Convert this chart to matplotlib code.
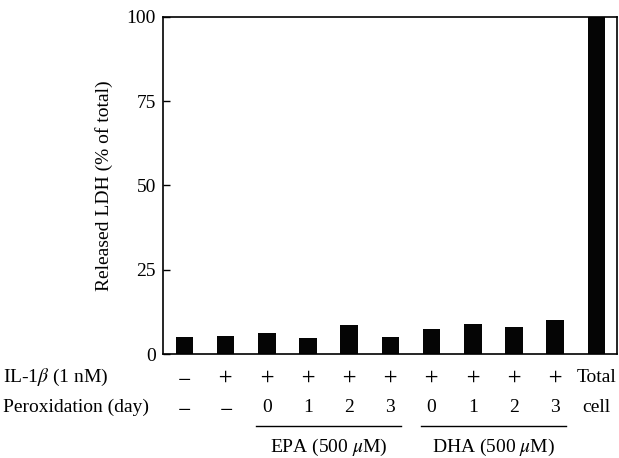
import matplotlib
matplotlib.use("Agg")
import matplotlib.pyplot as plt
import matplotlib.transforms as mtransforms

plt.rcParams['font.family'] = ['Liberation Serif', 'DejaVu Serif']
plt.rcParams['mathtext.fontset'] = 'stix'

# data
ldh = [5.0, 5.4, 6.3, 4.9, 8.6, 5.2, 7.4, 9.0, 8.1, 10.1, 100]
il1b = ['$-$', '$+$', '$+$', '$+$', '$+$', '$+$', '$+$', '$+$', '$+$', '$+$']
perox = ['$-$', '$-$', '0', '1', '2', '3', '0', '1', '2', '3']
yticks = [0, 25, 50, 75, 100]

fig = plt.figure(figsize=(6.19, 4.58), dpi=100)
ax = fig.add_axes([0.2633, 0.227, 0.7335, 0.736])

x = list(range(len(ldh)))
ax.bar(x, ldh, width=0.43, color='#050505')
ax.set_xlim(-0.52, 10.5)
ax.set_ylim(0, 100)
ax.set_yticks(yticks)
ax.set_yticklabels([str(t) for t in yticks], fontsize=14)
ax.tick_params(axis='y', direction='in', length=5, width=1, pad=5)
ax.set_xticks([])
for s in ax.spines.values():
    s.set_linewidth(1.2)
ax.set_ylabel('Released LDH (% of total)', fontsize=14, labelpad=10)

tr = mtransforms.blended_transform_factory(ax.transData, ax.transAxes)
fs = 14
for i in range(10):
    ax.text(i, -0.07, il1b[i], transform=tr, ha='center', va='center', fontsize=fs)
    ax.text(i, -0.16, perox[i], transform=tr, ha='center', va='center', fontsize=fs)
ax.text(10, -0.07, 'Total', transform=tr, ha='center', va='center', fontsize=fs)
ax.text(10, -0.16, 'cell', transform=tr, ha='center', va='center', fontsize=fs)

fig.text(0.005, (458 - 377) / 458, r'IL-1$\beta$ (1 nM)', ha='left', va='center', fontsize=fs)
fig.text(0.005, (458 - 407) / 458, 'Peroxidation (day)', ha='left', va='center', fontsize=fs)

# group underlines and labels
groups = [(2, 5, r'EPA (500 $\mu$M)'), (6, 9, r'DHA (500 $\mu$M)')]
for a, b, lab in groups:
    ax.plot([a - 0.26, b + 0.26], [-0.214, -0.214], transform=tr, color='black',
            lw=1.0, clip_on=False)
    ax.text((a + b) / 2, -0.278, lab, transform=tr, ha='center', va='center', fontsize=fs)

fig.savefig('out.png', dpi=100)
